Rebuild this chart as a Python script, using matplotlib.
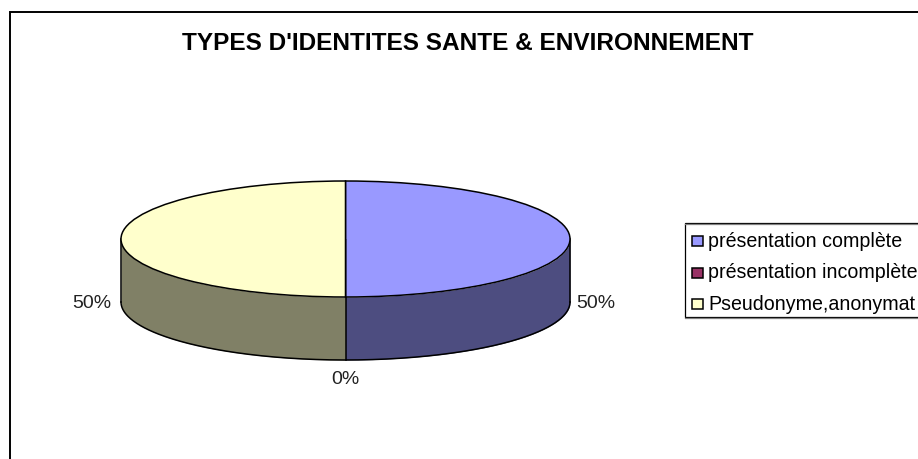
import numpy as np
import matplotlib
matplotlib.use('Agg')
import matplotlib.pyplot as plt
from matplotlib.patches import Rectangle

plt.rcParams['font.family'] = ['Liberation Sans', 'DejaVu Sans']

title = "TYPES D'IDENTITES SANTE & ENVIRONNEMENT"
categories = ['présentation complète', 'présentation incomplète', 'Pseudonyme,anonymat']
values = [50, 0, 50]
top_colors = ['#9999FF', '#993366', '#FFFFCC']
side_colors = ['#4D4D80', '#4D1A33', '#808066']

W, H = 918, 459
cx, cy = 345.5, 239      # pie centre, px
rx, ry = 224.5, 58       # ellipse radii, px
depth = 63               # px

fig = plt.figure(figsize=(W/100, H/100), dpi=100)

# background axes in pixel coords, for frame and legend
bg = fig.add_axes([0, 0, 1, 1])
bg.set_xlim(0, W)
bg.set_ylim(H, 0)
bg.axis('off')
bg.plot([9.7, 9.7, W+5], [H+5, 11.8, 11.8], color='k', lw=1.4, solid_joinstyle='miter')

# pie axes: one data unit is rx px wide and ry px high, so the circle becomes an ellipse
ax = fig.add_axes([(cx-rx*1.25)/W, 1-(cy+ry*2.6)/H, rx*2.5/W, ry*5.2/H])
wedges, _ = ax.pie(values, colors=top_colors, startangle=90, counterclock=False, radius=1,
                   wedgeprops=dict(edgecolor='k', linewidth=1.1, zorder=5))
ax.set_aspect('auto')
ax.set_xlim(-1.25, 1.25)
ax.set_ylim(-2.6, 2.6)
ax.axis('off')

# side wall, visible part only (lower half of the rim)
d = depth/ry
angle = 90.0
for v, c in zip(values, side_colors):
    a0, a1 = angle, angle - v*3.6
    angle = a1
    th = np.radians(np.linspace(max(a1, -180), min(a0, 0), 200))
    if v == 0 or a0 <= -180 or a1 >= 0:
        continue
    x = np.cos(th)
    y = np.sin(th)
    ax.fill_between(x, y, y-d, color=c, lw=0, zorder=1)
th = np.radians(np.linspace(-180, 0, 300))
ax.plot(np.cos(th), np.sin(th)-d, color='k', lw=1.1, zorder=2)
ax.plot([-1, -1], [0, -d], color='k', lw=1.1, zorder=2)
ax.plot([1, 1], [0, -d], color='k', lw=1.1, zorder=2)
ax.plot([0, 0], [-1, -1-d], color='k', lw=1.1, zorder=2)

# labels
fs = 14
label_xy = [(596, 303.5), (345.5, 380), (92, 303.5)]
for v, (lx, ly) in zip(values, label_xy):
    bg.text(lx, ly, '%d%%' % v, fontsize=fs, ha='center', va='center', color='#222222')

bg.text(468, 43, title, fontsize=17.6, fontweight='bold', ha='center', va='center', color='k')

# legend (runs off the right edge of the picture)
bg.plot([W+5, 684.5, 684.5, W+5], [223, 223, 317, 317], color='k', lw=0.9, solid_joinstyle='miter')
bg.plot([685, W+5], [318, 318], color='#808080', lw=0.9)
bg.plot([685, W+5], [224, 224], color='#808080', lw=0.9)
for name, c, ly in zip(categories, top_colors, [240.7, 272.5, 304]):
    bg.add_patch(Rectangle((692, ly-5), 11, 10, facecolor=c, edgecolor='k', lw=1.1))
    bg.text(708.5, ly+0.5, name, fontsize=14.1, ha='left', va='center', color='k')

fig.savefig('out.png', dpi=100)
